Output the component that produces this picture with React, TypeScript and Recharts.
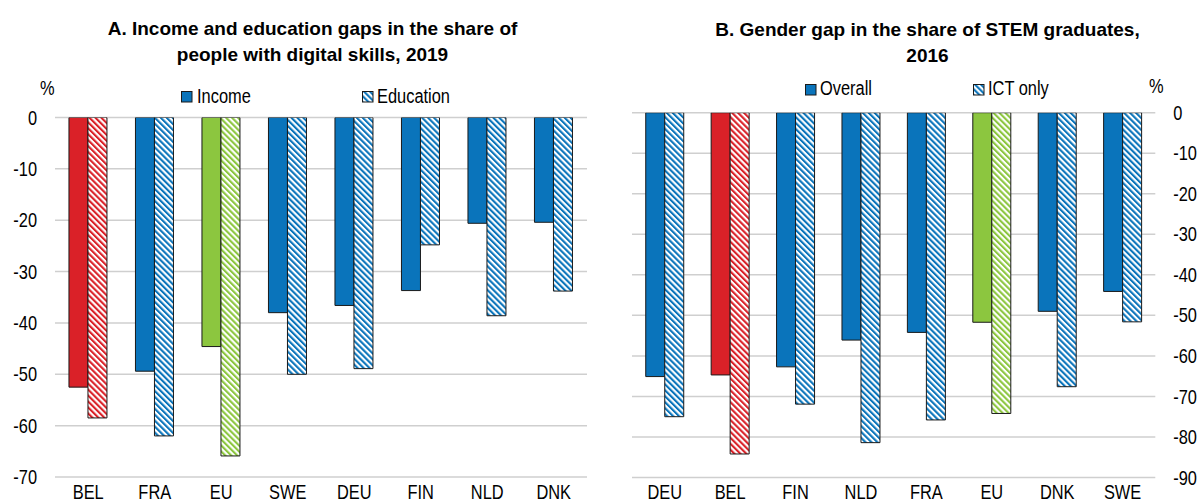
import React from 'react';
import { BarChart, Bar, XAxis, YAxis, CartesianGrid, Cell } from 'recharts';

// ---- Panel A data ----
const leftCategories = ['BEL', 'FRA', 'EU', 'SWE', 'DEU', 'FIN', 'NLD', 'DNK'];
const incomeGap = [-52.5, -49.4, -44.6, -38.0, -36.6, -33.7, -20.6, -20.4];
const educationGap = [-58.5, -62.0, -65.9, -50.0, -48.9, -24.8, -38.6, -33.8];
const leftTicks = [0, -10, -20, -30, -40, -50, -60, -70];

// ---- Panel B data ----
const rightCategories = ['DEU', 'BEL', 'FIN', 'NLD', 'FRA', 'EU', 'DNK', 'SWE'];
const overallGap = [-65.1, -64.7, -62.7, -56.1, -54.2, -51.7, -49.0, -44.1];
const ictGap = [-75.0, -84.2, -71.9, -81.4, -75.8, -74.2, -67.6, -51.6];
const rightTicks = [0, -10, -20, -30, -40, -50, -60, -70, -80, -90];

const BLUE = '#0a74bb';
const RED = '#da2128';
const GREEN = '#8cc63f';

const FONT = '"Liberation Sans", Arial, sans-serif';
const NARROW = 0.82;

const colorKey = (c: string) => (c === 'BEL' ? 'red' : c === 'EU' ? 'green' : 'blue');
const COLORS: Record<string, string> = { blue: BLUE, red: RED, green: GREEN };

function PatternDefs({ prefix }: { prefix: string }) {
  return (
    <defs>
      {Object.keys(COLORS).map((k) => (
        <pattern
          key={k}
          id={`${prefix}-hatch-${k}`}
          patternUnits="userSpaceOnUse"
          width={4.2}
          height={4.2}
          patternTransform="rotate(-45)"
        >
          <rect x={0} y={0} width={4.2} height={4.2} fill="#ffffff" />
          <line x1={1.05} y1={0} x2={1.05} y2={4.2} stroke={COLORS[k]} strokeWidth={2.1} />
        </pattern>
      ))}
    </defs>
  );
}

// Narrow (Arial Narrow–like) tick label: regular sans squeezed horizontally
function NarrowTick(props: any) {
  const { x, y, payload, textAnchor, verticalAnchor } = props;
  const dy = verticalAnchor === 'start' ? '0.71em' : '0.355em';
  return (
    <g transform={`translate(${x},${y})`}>
      <text
        transform={`scale(${NARROW},1)`}
        x={0}
        y={0}
        dy={dy}
        textAnchor={textAnchor}
        fill="#000"
        fontSize={20}
        fontFamily={FONT}
      >
        {payload.value}
      </text>
    </g>
  );
}

type PanelProps = {
  prefix: string;
  categories: string[];
  solid: number[];
  hatched: number[];
  ticks: number[];
  yOrientation: 'left' | 'right';
  yWidth: number;
  margin: { top: number; right: number; bottom: number; left: number };
  xAxisHeight: number;
};

function Panel({ prefix, categories, solid, hatched, ticks, yOrientation, yWidth, margin, xAxisHeight }: PanelProps) {
  const data = categories.map((name, i) => ({ name, solid: solid[i], hatched: hatched[i] }));
  const boundaryTicks = [...categories.map((_, i) => i), categories.length];
  const minTick = Math.min(...ticks);
  return (
    <BarChart width={600} height={503} data={data} margin={margin} barCategoryGap="21%" barGap={0}>
      <PatternDefs prefix={prefix} />
      <CartesianGrid xAxisId="cat" vertical={false} stroke="#cfcfcf" strokeWidth={1.5} />
      <XAxis
        xAxisId="cat"
        dataKey="name"
        interval={0}
        axisLine={false}
        tickLine={false}
        tickSize={0}
        tickMargin={7.5}
        height={xAxisHeight}
        tick={<NarrowTick />}
      />
      <YAxis
        domain={[minTick, 0]}
        ticks={ticks}
        interval={0}
        orientation={yOrientation}
        width={yWidth}
        axisLine={false}
        tickLine={false}
        tickSize={0}
        tickMargin={18}
        allowDataOverflow
        tick={<NarrowTick />}
      />
      <Bar xAxisId="cat" dataKey="solid" isAnimationActive={false} stroke="#1a1a1a" strokeWidth={1}>
        {data.map((d) => (
          <Cell key={`s-${d.name}`} fill={COLORS[colorKey(d.name)]} />
        ))}
      </Bar>
      <Bar xAxisId="cat" dataKey="hatched" isAnimationActive={false} stroke="#1a1a1a" strokeWidth={1}>
        {data.map((d) => (
          <Cell key={`h-${d.name}`} fill={`url(#${prefix}-hatch-${colorKey(d.name)})`} />
        ))}
      </Bar>
      <XAxis
        xAxisId="bounds"
        type="number"
        orientation="top"
        domain={[0, categories.length]}
        ticks={boundaryTicks}
        allowDataOverflow
        height={0}
        tick={false}
        tickSize={5}
        axisLine={{ stroke: '#000', strokeWidth: 1.5 }}
        tickLine={{ stroke: '#000', strokeWidth: 1.5 }}
      />
    </BarChart>
  );
}

function Swatch({ x, y, hatched, id }: { x: number; y: number; hatched: boolean; id: string }) {
  return (
    <svg width={12} height={12} style={{ position: 'absolute', left: x, top: y }}>
      <defs>
        <pattern id={id} patternUnits="userSpaceOnUse" width={4.2} height={4.2} patternTransform="rotate(-45)">
          <rect x={0} y={0} width={4.2} height={4.2} fill="#ffffff" />
          <line x1={1.05} y1={0} x2={1.05} y2={4.2} stroke={BLUE} strokeWidth={2.1} />
        </pattern>
      </defs>
      <rect x={0.5} y={0.5} width={10.5} height={10.5} fill={hatched ? `url(#${id})` : BLUE} stroke="#1a1a1a" strokeWidth={1} />
    </svg>
  );
}

function NarrowText({ left, top, children }: { left: number; top: number; children: React.ReactNode }) {
  return (
    <div
      style={{
        position: 'absolute',
        left,
        top,
        fontFamily: FONT,
        fontSize: 20,
        lineHeight: '20px',
        color: '#000',
        whiteSpace: 'nowrap',
        transform: `scaleX(${NARROW})`,
        transformOrigin: 'left top',
      }}
    >
      {children}
    </div>
  );
}

const titleStyle = (center: number, top: number): React.CSSProperties => ({
  position: 'absolute',
  left: center - 300,
  top,
  width: 600,
  textAlign: 'center',
  fontFamily: FONT,
  fontWeight: 'bold',
  fontSize: 19,
  lineHeight: '26px',
  color: '#000',
});

export default function App() {
  return (
    <div style={{ position: 'absolute', left: 0, top: 0, width: 1200, height: 503, background: '#fff', overflow: 'hidden' }}>
      <div style={{ position: 'absolute', left: 0, top: 0 }}>
        <Panel
          prefix="a"
          categories={leftCategories}
          solid={incomeGap}
          hatched={educationGap}
          ticks={leftTicks}
          yOrientation="left"
          yWidth={55}
          margin={{ top: 117.5, right: 13, bottom: 0, left: 0 }}
          xAxisHeight={26}
        />
      </div>
      <div style={{ position: 'absolute', left: 600, top: 0 }}>
        <Panel
          prefix="b"
          categories={rightCategories}
          solid={overallGap}
          hatched={ictGap}
          ticks={rightTicks}
          yOrientation="right"
          yWidth={44.7}
          margin={{ top: 112.7, right: 0, bottom: 0, left: 32 }}
          xAxisHeight={25.5}
        />
      </div>

      <div style={titleStyle(312.5, 16)}>
        A. Income and education gaps in the share of
        <br />
        people with digital skills, 2019
      </div>
      <div style={titleStyle(927.5, 17)}>
        B. Gender gap in the share of STEM graduates,
        <br />
        2016
      </div>

      <NarrowText left={40} top={78}>%</NarrowText>
      <NarrowText left={1149} top={76}>%</NarrowText>

      <Swatch x={181} y={91} hatched={false} id="lg-a1" />
      <NarrowText left={197} top={86}>Income</NarrowText>
      <Swatch x={362} y={91} hatched={true} id="lg-a2" />
      <NarrowText left={377} top={86}>Education</NarrowText>

      <Swatch x={805} y={84} hatched={false} id="lg-b1" />
      <NarrowText left={820} top={78}>Overall</NarrowText>
      <Swatch x={973} y={84} hatched={true} id="lg-b2" />
      <NarrowText left={988} top={78}>ICT only</NarrowText>
    </div>
  );
}
